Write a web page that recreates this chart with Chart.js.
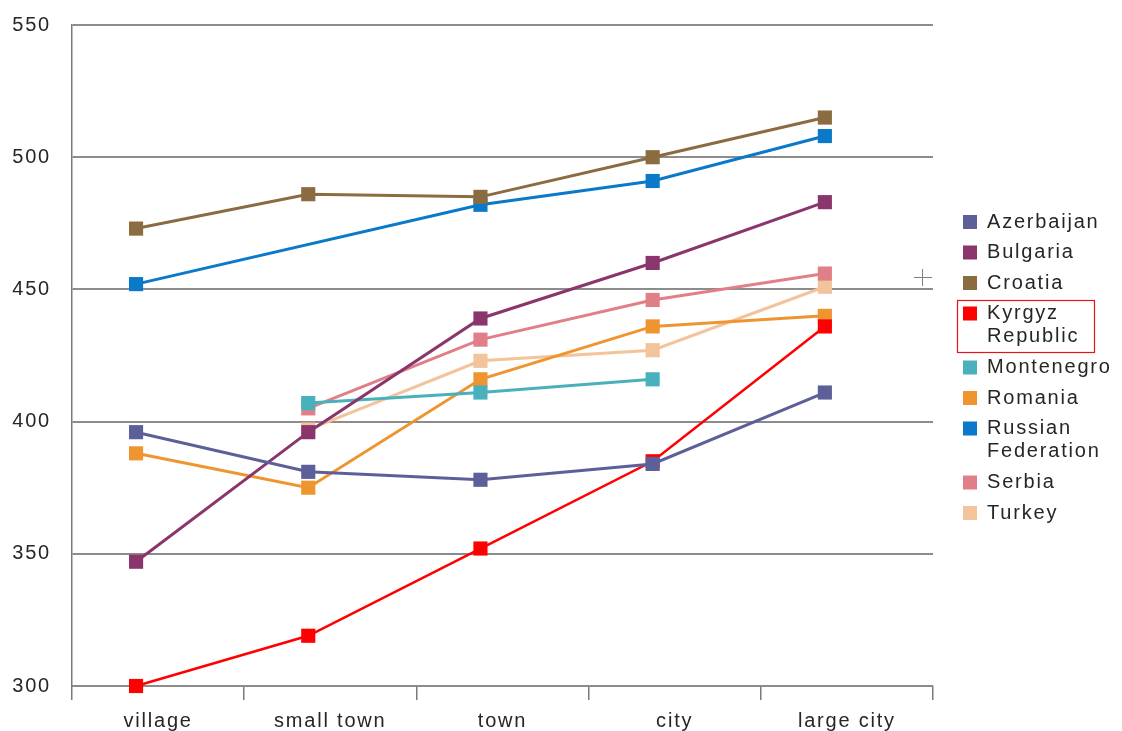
<!DOCTYPE html>
<html>
<head>
<meta charset="utf-8">
<script src="https://cdn.jsdelivr.net/npm/chart.js@4/dist/chart.umd.min.js"></script>
<style>
    body { margin: 0; background: #fff; }
    #wrap { width: 1122px; height: 731px; position: relative; }
</style>
</head>
<body>
<div id="wrap"><canvas id="scoreChart"></canvas></div>
<script>
// Chart data
const categories = ['village', 'small town', 'town', 'city', 'large city'];
const yTicks = [300, 350, 400, 450, 500, 550];

const azerbaijan = [396, 381, 378, 384, 411];
const bulgaria = [347, 396, 439, 460, 483];
const croatia = [473, 486, 485, 500, 515];
const kyrgyz = [300, 319, 352, 385, 436];
const montenegro = [null, 407, 411, 416, null];
const romania = [388, 375, 416, 436, 440];
const russia = [452, null, 482, 491, 508];
const serbia = [null, 405, 431, 446, 456];
const turkey = [null, 397, 423, 427, 451];

const seriesNames = ['Azerbaijan', 'Bulgaria', 'Croatia', 'Kyrgyz\nRepublic', 'Montenegro',
    'Romania', 'Russian\nFederation', 'Serbia', 'Turkey'];
const seriesValues = [azerbaijan, bulgaria, croatia, kyrgyz, montenegro, romania, russia, serbia, turkey];
const seriesColors = ['#5d6098', '#8a366c', '#8b6b40', '#ff0000', '#48b1bb',
    '#ef9530', '#0a79c9', '#e17f89', '#f3c39b'];

const FONT = '"Liberation Sans", Arial, Helvetica, sans-serif';
const TRACKING = '1.8px';

// build line datasets, x is the category index on a hidden linear scale
const datasets = seriesValues.map((vals, i) => ({
    label: seriesNames[i],
    data: vals.map((v, j) => ({ x: j, y: v })),
    xAxisID: 'xp',
    borderColor: seriesColors[i],
    backgroundColor: seriesColors[i],
    borderWidth: i === 3 ? 2.5 : 3,
    pointStyle: 'rect',
    pointRadius: 10,
    pointBorderWidth: 0,
    pointBackgroundColor: seriesColors[i],
    spanGaps: true,
    clip: false,
    tension: 0
}));

// letter spacing for all canvas text
const trackingPlugin = {
    id: 'tracking',
    beforeLayout(chart) { chart.ctx.letterSpacing = TRACKING; },
    beforeDraw(chart) { chart.ctx.letterSpacing = TRACKING; }
};

// legend on the right, drawn by hand so that two-line names fit
const sideLegend = {
    id: 'sideLegend',
    afterDraw(chart) {
        const ctx = chart.ctx;
        ctx.save();
        ctx.letterSpacing = TRACKING;
        ctx.font = '20px ' + FONT;
        ctx.textBaseline = 'middle';
        ctx.textAlign = 'left';
        let y = 222;
        seriesNames.forEach((name, i) => {
            const lines = name.split('\n');
            ctx.fillStyle = seriesColors[i];
            ctx.fillRect(963, y - 7, 14, 14);
            ctx.fillStyle = '#262626';
            lines.forEach((ln, k) => ctx.fillText(ln, 987, y + k * 23));
            if (i === 3) {
                // highlight box round Kyrgyz Republic
                ctx.strokeStyle = '#e8141c';
                ctx.lineWidth = 1.2;
                ctx.strokeRect(957.5, 300.5, 137, 52);
            }
            y += 30.5 + (lines.length - 1) * 23.5;
        });
        // small cross mark
        ctx.strokeStyle = '#808080';
        ctx.lineWidth = 1;
        ctx.beginPath();
        ctx.moveTo(914, 277.5); ctx.lineTo(932, 277.5);
        ctx.moveTo(922.5, 269); ctx.lineTo(922.5, 286);
        ctx.stroke();
        ctx.restore();
    }
};

document.addEventListener('DOMContentLoaded', function() {
    Chart.defaults.font.family = FONT;
    Chart.defaults.font.size = 20;
    Chart.defaults.color = '#262626';

    const ctx = document.getElementById('scoreChart').getContext('2d');
    new Chart(ctx, {
        type: 'line',
        data: {
            labels: categories,
            datasets: datasets
        },
        options: {
            responsive: true,
            maintainAspectRatio: false,
            animation: false,
            layout: {
                padding: { left: 12, right: 189, top: 25, bottom: 0 }
            },
            scales: {
                xp: {
                    type: 'linear',
                    display: false,
                    min: -0.372,
                    max: 4.628
                },
                x: {
                    type: 'category',
                    offset: true,
                    afterFit(axis) { axis.height = 45; },
                    grid: {
                        offset: true,
                        drawOnChartArea: false,
                        drawTicks: true,
                        tickLength: 14,
                        color: '#7a7a7a',
                        lineWidth: 1.5
                    },
                    border: { display: true, color: '#8c8c8c', width: 2 },
                    ticks: { padding: 9, maxRotation: 0 }
                },
                y: {
                    min: 300,
                    max: 550,
                    afterFit(axis) {
                        axis.width = 60;
                        axis.paddingTop = 0;
                        axis.paddingBottom = 0;
                    },
                    afterBuildTicks(axis) {
                        axis.ticks = yTicks.map(v => ({ value: v }));
                    },
                    grid: {
                        drawTicks: false,
                        color: '#8c8c8c',
                        lineWidth: 2
                    },
                    border: { display: true, color: '#7a7a7a', width: 1.5 },
                    ticks: { padding: 21 }
                }
            },
            plugins: {
                legend: { display: false },
                tooltip: { enabled: false }
            }
        },
        plugins: [trackingPlugin, sideLegend]
    });
});
</script>
</body>
</html>
